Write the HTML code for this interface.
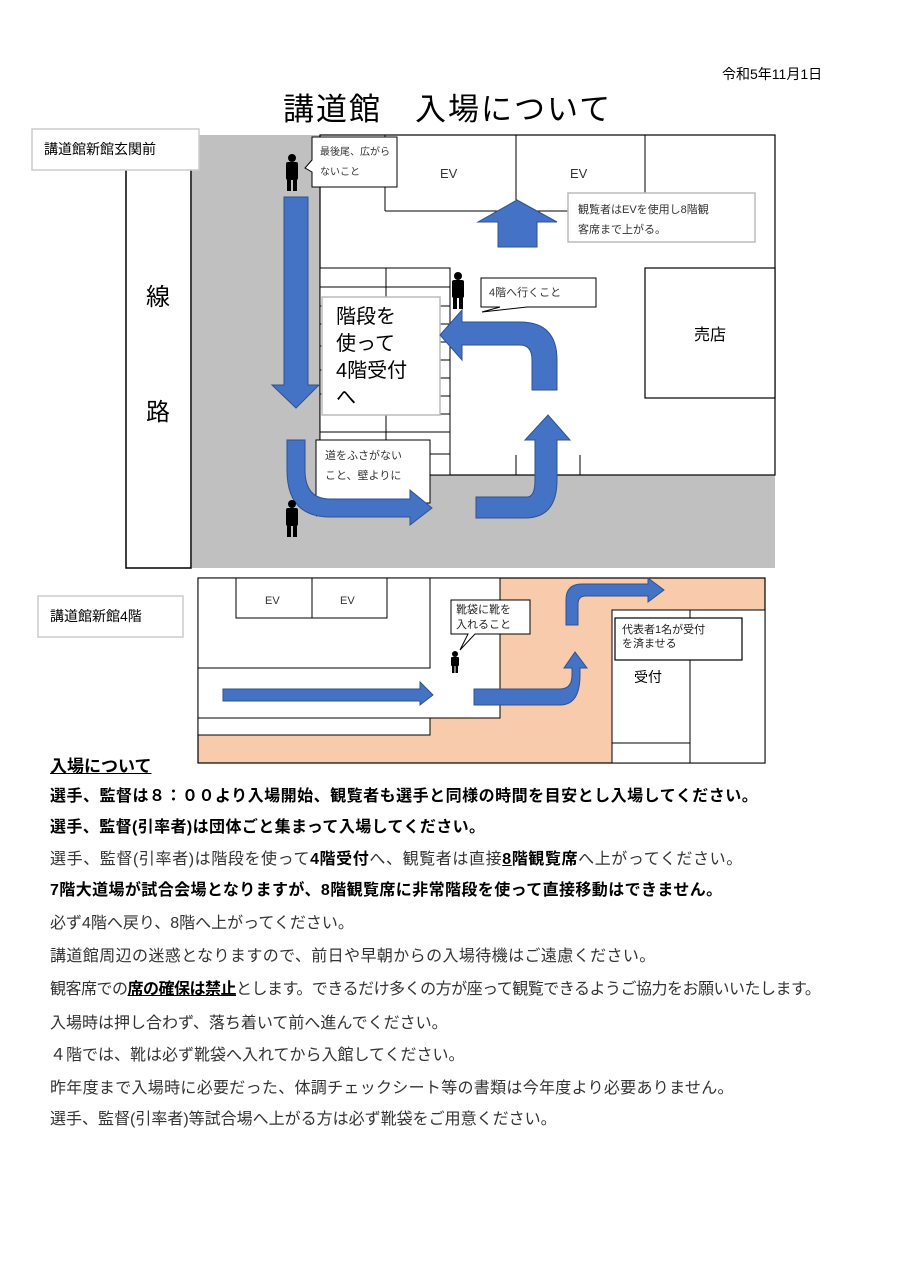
<!DOCTYPE html>
<html><head><meta charset="utf-8"><style>
body{margin:0;width:905px;height:1280px;background:#fff;position:relative;overflow:hidden;font-family:"Liberation Sans","Noto Sans CJK JP",sans-serif;color:#000}
.a{position:absolute;white-space:nowrap}
.t{position:absolute;left:50px;font-size:16px;white-space:nowrap;line-height:20px}
.b{font-weight:bold}
.n{color:#333}
</style></head><body>
<div class="a" style="left:722px;top:64px;font-size:14px">令和5年11月1日</div>
<div class="a" style="left:283px;top:84px;font-size:31px;letter-spacing:2px">講道館　入場について</div>

<svg width="905" height="780" style="position:absolute;left:0;top:0" xmlns="http://www.w3.org/2000/svg" font-family="Liberation Sans,Noto Sans CJK JP,sans-serif">
<rect x="192" y="135" width="583" height="433" fill="#c0c0c0"/>
<rect x="126" y="165" width="65" height="403" fill="#fff" stroke="#000" stroke-width="1.5"/>
<text x="158" y="305" font-size="24" text-anchor="middle">線</text>
<text x="158" y="420" font-size="24" text-anchor="middle">路</text>
<rect x="32" y="129" width="167" height="41" fill="#fff" stroke="#ccc" stroke-width="1.5"/>
<text x="44" y="154" font-size="14">講道館新館玄関前</text>
<rect x="320" y="135" width="455" height="340" fill="#fff" stroke="#000" stroke-width="1.2"/>
<line x1="385" y1="135" x2="385" y2="211" stroke="#000"/>
<line x1="385" y1="211" x2="568" y2="211" stroke="#000"/>
<line x1="516" y1="135" x2="516" y2="200" stroke="#000"/>
<line x1="645" y1="135" x2="645" y2="193" stroke="#000"/>
<text x="440" y="178" font-size="13" fill="#333">EV</text>
<text x="570" y="178" font-size="13" fill="#333">EV</text>
<line x1="516" y1="455" x2="516" y2="475" stroke="#000"/>
<line x1="580" y1="455" x2="580" y2="475" stroke="#000"/>
<rect x="645" y="268" width="130" height="130" fill="#fff" stroke="#000" stroke-width="1.2"/>
<text x="710" y="340" font-size="16" text-anchor="middle">売店</text>
<rect x="320" y="268" width="130" height="207" fill="#fff" stroke="#000"/>
<line x1="386" y1="268" x2="386" y2="475" stroke="#000"/>
<g stroke="#000">
<line x1="320" y1="287" x2="450" y2="287"/>
<line x1="386" y1="306" x2="450" y2="306"/><line x1="386" y1="324" x2="450" y2="324"/><line x1="386" y1="342" x2="450" y2="342"/><line x1="386" y1="360" x2="450" y2="360"/><line x1="386" y1="378" x2="450" y2="378"/><line x1="386" y1="396" x2="450" y2="396"/><line x1="386" y1="414" x2="450" y2="414"/>
<line x1="320" y1="432" x2="450" y2="432"/><line x1="386" y1="454" x2="450" y2="454"/>
<line x1="320" y1="306" x2="386" y2="306"/><line x1="320" y1="324" x2="386" y2="324"/><line x1="320" y1="346" x2="386" y2="346"/><line x1="320" y1="370" x2="386" y2="370"/><line x1="320" y1="394" x2="386" y2="394"/>
</g>
<rect x="322" y="297" width="118" height="118" fill="#fff" stroke="#bbb" stroke-width="1.5"/>
<text font-size="20" fill="#000"><tspan x="336" y="323">階段を</tspan><tspan x="336" y="350">使って</tspan><tspan x="336" y="377">4階受付</tspan><tspan x="336" y="404">へ</tspan></text>
<path d="M312 137 H397 V187 H312 V172 L305 168 L312 160 Z" fill="#fff" stroke="#000"/>
<text font-size="10" fill="#333"><tspan x="320" y="155">最後尾、広がら</tspan><tspan x="320" y="175">ないこと</tspan></text>
<rect x="568" y="193" width="187" height="49" fill="#fff" stroke="#bbb" stroke-width="1.5"/>
<text font-size="11" fill="#333"><tspan x="578" y="213">観覧者はEVを使用し8階観</tspan><tspan x="578" y="233">客席まで上がる。</tspan></text>
<path d="M481 278 H596 V307 H527 L482 312 L500 307 H481 Z" fill="#fff" stroke="#000"/>
<text x="489" y="296" font-size="11" fill="#333">4階へ行くこと</text>
<path d="M316 440 H430 V503 H347 L316 516 L334 503 H316 Z" fill="#fff" stroke="#000"/>
<text font-size="11" fill="#333"><tspan x="325" y="459">道をふさがない</tspan><tspan x="325" y="479">こと、壁よりに</tspan></text>
<g fill="#4472c4" stroke="#2f528f" stroke-width="1">
<path d="M284 197 H308 V385 H319 L296 408 L272 385 H284 Z"/>
<path d="M517 200 L557 222 H537 V247 H498 V222 H478 Z"/>
<path d="M287 440 H305 V470 Q305 499 330 499 H410 V490 L432 508 L410 525 V517 H330 Q287 517 287 470 Z"/>
<path d="M476 497 H527 Q535 497 535 480 V440 H525 L548 415 L570 440 H557 V480 Q557 518 525 518 H476 Z"/>
<path d="M532 390 H557 V360 Q557 322 520 322 H462 V310 L440 335 L462 360 V345 H520 Q532 345 532 360 Z"/>
</g>
<g fill="#000">
<circle cx="292" cy="158" r="4"/><rect x="286" y="162" width="12" height="18" rx="2"/><rect x="287" y="176" width="4" height="15"/><rect x="293" y="176" width="4" height="15"/>
<circle cx="458" cy="276" r="4"/><rect x="452" y="280" width="12" height="18" rx="2"/><rect x="453" y="294" width="4" height="15"/><rect x="459" y="294" width="4" height="15"/>
<circle cx="292" cy="504" r="4"/><rect x="286" y="508" width="12" height="18" rx="2"/><rect x="287" y="522" width="4" height="15"/><rect x="293" y="522" width="4" height="15"/>
</g>

<rect x="198" y="578" width="567" height="185" fill="#f8cbad" stroke="#000" stroke-width="1.2"/>
<rect x="198" y="578" width="302" height="140" fill="#fff" stroke="#000"/>
<rect x="198" y="718" width="232" height="17" fill="#fff" stroke="#000"/>
<rect x="198" y="578" width="232" height="90" fill="#fff" stroke="#000"/>
<rect x="236" y="578" width="76" height="40" fill="#fff" stroke="#000"/>
<rect x="312" y="578" width="75" height="40" fill="#fff" stroke="#000"/>
<text x="265" y="604" font-size="11" fill="#333">EV</text>
<text x="340" y="604" font-size="11" fill="#333">EV</text>
<rect x="612" y="610" width="78" height="133" fill="#fff" stroke="#000"/>
<rect x="612" y="743" width="78" height="20" fill="#fff" stroke="#000"/>
<rect x="690" y="610" width="75" height="153" fill="#fff" stroke="#000"/>
<text x="634" y="682" font-size="14">受付</text>
<rect x="615" y="618" width="127" height="42" fill="#fff" stroke="#000" stroke-width="1.2"/>
<text font-size="11" fill="#222"><tspan x="622" y="633">代表者1名が受付</tspan><tspan x="622" y="647">を済ませる</tspan></text>
<path d="M451 600 H530 V634 H475 L460 650 L468 634 H451 Z" fill="#fff" stroke="#000"/>
<text font-size="11" fill="#222"><tspan x="456" y="613">靴袋に靴を</tspan><tspan x="456" y="628">入れること</tspan></text>
<g fill="#000"><circle cx="455" cy="654" r="3"/><rect x="451" y="657" width="8" height="9" rx="1"/><rect x="452" y="664" width="2.5" height="9"/><rect x="455.5" y="664" width="2.5" height="9"/></g>
<rect x="38" y="596" width="145" height="41" fill="#fff" stroke="#ccc" stroke-width="1.5"/>
<text x="50" y="621" font-size="14">講道館新館4階</text>
<g fill="#4472c4" stroke="#2f528f" stroke-width="1">
<path d="M223 689 H420 V682 L433 695 L420 705 V701 H223 Z"/>
<path d="M474 689 H560 Q572 689 572 675 V668 H564 L575 652 L587 668 H580 V675 Q580 705 560 705 H474 Z"/>
<path d="M566 625 V600 Q566 584 582 584 H648 V578 L664 590 L648 602 V596 H586 Q578 596 578 604 V625 Z"/>
</g>
</svg>

<div class="a b" style="left:50px;top:752px;font-size:17px;text-decoration:underline">入場について</div>
<div class="t b" style="top:787px;letter-spacing:0.5px">選手、監督は８：００より入場開始、観覧者も選手と同様の時間を目安とし入場してください。</div>
<div class="t b" style="top:818px;letter-spacing:0.4px">選手、監督(引率者)は団体ごと集まって入場してください。</div>
<div class="t n" style="top:850px;letter-spacing:0.6px">選手、監督(引率者)は階段を使って<b style="color:#000">4階受付</b>へ、観覧者は直接<b style="color:#000"><u>8</u>階観覧席</b>へ上がってください。</div>
<div class="t b" style="top:881px;letter-spacing:0.4px">7階大道場が試合会場となりますが、8階観覧席に非常階段を使って直接移動はできません。</div>
<div class="t n" style="top:914px">必ず4階へ戻り、8階へ上がってください。</div>
<div class="t n" style="top:947px;letter-spacing:0.4px">講道館周辺の迷惑となりますので、前日や早朝からの入場待機はご遠慮ください。</div>
<div class="t n" style="top:980px;letter-spacing:-0.5px">観客席での<b style="color:#000"><u>席の確保は禁止</u></b>とします。できるだけ多くの方が座って観覧できるようご協力をお願いいたします。</div>
<div class="t n" style="top:1014px">入場時は押し合わず、落ち着いて前へ進んでください。</div>
<div class="t n" style="top:1046px">４階では、靴は必ず靴袋へ入れてから入館してください。</div>
<div class="t n" style="top:1079px;letter-spacing:0.3px">昨年度まで入場時に必要だった、体調チェックシート等の書類は今年度より必要ありません。</div>
<div class="t n" style="top:1110px">選手、監督(引率者)等試合場へ上がる方は必ず靴袋をご用意ください。</div>
</body></html>
